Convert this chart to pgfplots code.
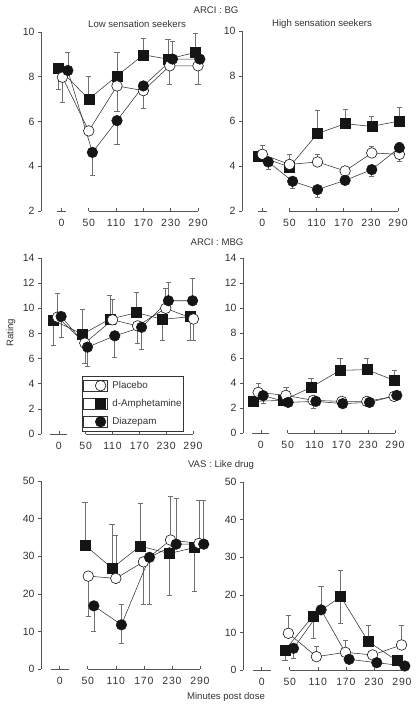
\documentclass[border=0pt]{standalone}
\usepackage{fontspec}
\setmainfont{Liberation Sans}
\newfontfamily\tickfont[LetterSpace=8]{Liberation Sans}
\usepackage{pgfplots}
\usepackage{pgfplotstable}
\pgfplotsset{compat=1.18}
\definecolor{axgray}{HTML}{555555}
\definecolor{txtgray}{HTML}{333333}
\definecolor{errgray}{HTML}{707070}
\definecolor{mk}{HTML}{151515}

% ---------- ARCI : BG, low ----------
\pgfplotstableread{
x y ep em
-17 8.39 0 0.95
50 7.00 1.01 0
112 8.04 1.05 0
170 8.98 0.75 0
224 8.79 0.87 0
285 9.09 0.84 0
}\BGlowS
\pgfplotstableread{
x y ep em
-8 7.98 0 1.12
50 5.58 0 0
112 7.59 0 1.15
170 7.38 0 0.79
228 8.49 0 0.81
290 8.49 0 0.81
}\BGlowO
\pgfplotstableread{
x y ep em
4 8.28 0.82 0
58 4.62 0 1.02
112 6.04 0 1.05
170 7.59 0 0
234 8.79 0.80 0
294 8.79 0 0
}\BGlowF
% ---------- ARCI : BG, high ----------
\pgfplotstableread{
x y ep em
-19 4.44 0 0
50 3.96 0 0
112 5.44 1.03 0
173 5.88 0.62 0
232 5.76 0.46 0
293 6.00 0.59 0
}\BGhighS
\pgfplotstableread{
x y ep em
-10 4.52 0.40 0
50 4.07 0.43 0
112 4.18 0.34 0
173 3.78 0 0
232 4.58 0.29 0
293 4.52 0 0.32
}\BGhighO
\pgfplotstableread{
x y ep em
3 4.18 0 0.33
57 3.32 0 0.33
112 2.95 0 0.33
173 3.36 0 0
232 3.84 0 0.28
293 4.81 0.26 0
}\BGhighF
% ---------- ARCI : MBG, low ----------
\pgfplotstableread{
x y ep em
-22 9.03 0 1.94
43 7.94 1.94 0
104 9.14 1.88 0
164 9.65 1.60 0
222 9.12 0 1.70
283 9.33 0 1.85
}\MBGlowS
\pgfplotstableread{
x y ep em
-13 9.30 1.86 0
48 7.23 0 1.60
110 9.08 1.65 0
166 8.60 0 1.40
229 10.00 1.60 0
291 9.15 0 1.73
}\MBGlowO
\pgfplotstableread{
x y ep em
-5 9.35 0 1.65
54 6.91 0 1.49
115 7.81 0 1.70
175 8.49 0 1.75
235 10.60 1.50 0
289 10.60 1.78 0
}\MBGlowF
% ---------- ARCI : MBG, high ----------
\pgfplotstableread{
x y ep em
-27 2.53 0 0
40 2.61 0 0
102 3.65 0.75 0
167 5.01 0.99 0
227 5.07 0.93 0
288 4.21 0.80 0
}\MBGhighS
\pgfplotstableread{
x y ep em
-16 3.25 0.70 0
46 3.01 0.64 0
107 2.61 0 0.66
171 2.53 0.32 0
227 2.53 0 0
288 2.93 0 0
}\MBGhighO
\pgfplotstableread{
x y ep em
-5 2.99 0 0.59
51 2.45 0 0
113 2.53 0 0
173 2.35 0 0
233 2.45 0 0
294 3.01 0 0
}\MBGhighF
% ---------- VAS : Like drug, low ----------
\pgfplotstableread{
x y ep em
44 32.95 11.45 0
102 26.8 11.7 0
162 32.7 11.5 0
224 30.7 0 11.2
278 32.3 0 11.7
}\VASlowS
\pgfplotstableread{
x y ep em
51 24.7 0 10.6
110 24.1 11.5 0
169 28.5 0 11.3
227 34.3 11.6 0
288 33.4 11.4 0
}\VASlowO
\pgfplotstableread{
x y ep em
63 16.8 0 6.8
122 11.75 5.5 4.85
182 29.7 0 12.5
239 33.2 12.1 0
298 33.2 11.8 0
}\VASlowF
% ---------- VAS : Like drug, high ----------
\pgfplotstableread{
x y ep em
40 5.33 0 2.67
100 14.4 0 6.0
159 19.5 7.1 7.1
218 7.55 4.25 0
279 2.5 0 0
}\VAShighS
\pgfplotstableread{
x y ep em
47 9.77 4.9 0
107 3.55 2.65 0
169 4.7 3.3 0
227 4.0 0 0
289 6.66 5.3 0
}\VAShighO
\pgfplotstableread{
x y ep em
58 5.77 0 2.67
117 16.0 6.2 0
177 2.84 0 0
236 1.95 0 0
296 1.07 0 0
}\VAShighF

\pgfplotsset{
  panel/.style={
    scale only axis, anchor=south west, clip=false,
    axis y line*=left, axis x line*=bottom,
    x axis line style={draw=none},
    y axis line style={draw=axgray, line width=0.6pt},
    xtick={-10,50,110,170,230,290},
    xticklabels={0,50,110,170,230,290},
    xtick align=inside, ytick align=outside,
    major tick length=3pt,
    tick style={draw=axgray, line width=0.6pt},
    yticklabel style={font=\fontsize{10.5}{12}\selectfont, text=txtgray},
    xticklabel style={font=\tickfont\fontsize{10.5}{12}\selectfont, text=txtgray, yshift=-5pt},
    /pgf/number format/assume math mode=true,
    xmax=290,
  },
  errs/.style={forget plot, draw=none, mark=none,
    error bars/.cd, y dir=both, y explicit,
    error bar style={draw=errgray, line width=0.6pt, solid},
    error mark options={draw=errgray, rotate=90, mark size=2.6pt, line width=0.6pt}},
  sq/.style={line width=0.55pt, draw=black!80, mark=square*, mark size=5pt,
    mark options={fill=mk, draw=mk, line width=0.5pt, solid}},
  oc/.style={line width=0.55pt, draw=black!80, mark=*, mark size=5.3pt,
    mark options={fill=white, draw=mk, line width=0.6pt, solid}},
  fc/.style={line width=0.55pt, draw=black!80, mark=*, mark size=5.3pt,
    mark options={fill=mk, draw=mk, line width=0.5pt, solid}},
}
\newcommand{\ErrAndLines}[3]{%
  \addplot[errs] table[x=x,y=y,y error plus=ep,y error minus=em] {#1};
  \addplot[errs] table[x=x,y=y,y error plus=ep,y error minus=em] {#2};
  \addplot[errs] table[x=x,y=y,y error plus=ep,y error minus=em] {#3};
  \addplot[sq] table[x=x,y=y] {#1};
  \addplot[oc] table[x=x,y=y] {#2};
  \addplot[fc] table[x=x,y=y] {#3};
}

\begin{document}
\begin{tikzpicture}
\useasboundingbox (0pt,0pt) rectangle (417pt,-706pt);

% ---- Row 1 ----
\begin{axis}[panel, at={(41pt,-211pt)}, width=157pt, height=179pt,
  xmin=-55, ymin=2, ymax=10, ytick={2,4,6,8,10}]
  \ErrAndLines{\BGlowS}{\BGlowO}{\BGlowF}
  \draw[axgray, line width=0.6pt] (axis cs:-19,2) -- (axis cs:1,2);
  \draw[axgray, line width=0.6pt] (axis cs:50,2) -- (axis cs:290,2);
\end{axis}
\begin{axis}[panel, at={(242pt,-211pt)}, width=156pt, height=180pt,
  xmin=-55, ymin=2, ymax=10, ytick={2,4,6,8,10}]
  \ErrAndLines{\BGhighS}{\BGhighO}{\BGhighF}
  \draw[axgray, line width=0.6pt] (axis cs:-19,2) -- (axis cs:1,2);
  \draw[axgray, line width=0.6pt] (axis cs:50,2) -- (axis cs:290,2);
\end{axis}

% ---- Row 2 ----
\begin{axis}[panel, at={(41pt,-434pt)}, width=152pt, height=176pt,
  xmin=-50, ymin=0, ymax=14, ytick={0,2,...,14},
  legend style={at={(0.27,0.33)}, anchor=north west, draw=black!80,
    line width=0.6pt, font=\fontsize{9.8}{12}\selectfont, text=txtgray,
    row sep=6.5pt, inner xsep=1pt, inner ysep=3.7pt, nodes={inner sep=1pt},
    /tikz/every odd column/.append style={column sep=3.5pt}},
  legend cell align=left,
  legend image code/.code={\path (0pt,-5.5pt) rectangle (24pt,5.5pt);
    \draw[#1] plot coordinates {(17pt,0pt)};}]
  \addlegendimage{oc}\addlegendentry{Placebo}
  \addlegendimage{sq}\addlegendentry{d-Amphetamine}
  \addlegendimage{fc}\addlegendentry{Diazepam}
  \ErrAndLines{\MBGlowS}{\MBGlowO}{\MBGlowF}
  \draw[axgray, line width=0.6pt] (axis cs:-29,0) -- (axis cs:9,0);
  \draw[axgray, line width=0.6pt] (axis cs:50,0) -- (axis cs:290,0);
\end{axis}
\begin{axis}[panel, at={(243pt,-433pt)}, width=152pt, height=175pt,
  xmin=-50, ymin=0, ymax=14, ytick={0,2,...,14}]
  \ErrAndLines{\MBGhighS}{\MBGhighO}{\MBGhighF}
  \draw[axgray, line width=0.6pt] (axis cs:-29,0) -- (axis cs:9,0);
  \draw[axgray, line width=0.6pt] (axis cs:50,0) -- (axis cs:290,0);
\end{axis}

% ---- Row 3 ----
\begin{axis}[panel, at={(41pt,-669pt)}, width=159pt, height=188pt,
  xmin=-50, ymin=0, ymax=50, ytick={0,10,...,50}]
  \ErrAndLines{\VASlowS}{\VASlowO}{\VASlowF}
  \draw[axgray, line width=0.6pt] (axis cs:-29,0) -- (axis cs:9,0);
  \draw[axgray, line width=0.6pt] (axis cs:50,0) -- (axis cs:290,0);
\end{axis}
\begin{axis}[panel, at={(243pt,-670pt)}, width=159pt, height=188pt,
  xmin=-50, ymin=0, ymax=50, ytick={0,10,...,50}]
  \ErrAndLines{\VAShighS}{\VAShighO}{\VAShighF}
  \draw[axgray, line width=0.6pt] (axis cs:-29,0) -- (axis cs:9,0);
  \draw[axgray, line width=0.6pt] (axis cs:50,0) -- (axis cs:290,0);
\end{axis}

% ---- Titles ----
\begin{scope}[every node/.style={text=txtgray, font=\fontsize{9.6}{11}\selectfont}]
\node at (216pt,-10pt) {ARCI : BG};
\node at (137pt,-24pt) {Low sensation seekers};
\node at (322pt,-24pt) {High sensation seekers};
\node at (217pt,-242pt) {ARCI : MBG};
\node at (221pt,-465pt) {VAS : Like drug};
\node at (226pt,-697pt) {Minutes post dose};
\node[rotate=90] at (11pt,-333pt) {Rating};
\end{scope}
\end{tikzpicture}
\end{document}
